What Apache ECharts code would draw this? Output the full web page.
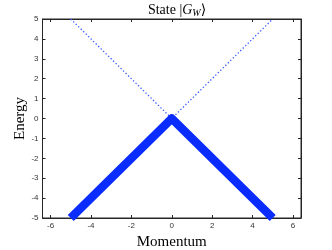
<!DOCTYPE html>
<html><head><meta charset="utf-8">
<script src="https://cdn.jsdelivr.net/npm/echarts@6/dist/echarts.min.js"></script>
<style>html,body{margin:0;padding:0;background:#fff}#c{width:332px;height:250px}</style>
</head><body><div id="c"></div>
<script>
const xTicks = [-6, -4, -2, 0, 2, 4, 6];
const yTicks = [-5, -4, -3, -2, -1, 0, 1, 2, 3, 4, 5];
const dottedX = [-5, 0, 5];
const dottedY = [5, 0, 5];
const thickX = [-5, 0, 5];
const thickY = [-5, 0, -5];

const chart = echarts.init(document.getElementById('c'));
const axisCol = '#262626';
const serif = '"Liberation Serif","DejaVu Serif",serif';
const baseX = {
  type: 'value', min: -6.4, max: 6.4,
  axisLine: {show: true, onZero: false, lineStyle: {color: axisCol, width: 1}},
  splitLine: {show: false}
};
const baseY = {
  type: 'value', min: -5, max: 5, interval: 1,
  axisLine: {show: true, onZero: false, lineStyle: {color: axisCol, width: 1}},
  splitLine: {show: false}
};
chart.setOption({
  animation: false,
  title: {
    text: '{n|State |}{i|G}{s|W}{n|⟩}', left: 172, top: -3, textAlign: 'center',
    textStyle: {fontWeight: 'normal', rich: {
      n: {fontFamily: serif, fontSize: 14, fontWeight: 'normal', color: '#000'},
      i: {fontFamily: serif, fontSize: 14, fontWeight: 'normal', fontStyle: 'italic', color: '#000'},
      s: {fontFamily: serif, fontSize: 10, fontWeight: 'normal', fontStyle: 'italic', color: '#000', verticalAlign: 'bottom', padding: [6, 0, 0, 0]}
    }}
  },
  grid: {left: 42.5, right: 31, top: 19, bottom: 32, show: true, borderColor: axisCol, borderWidth: 1, outerBoundsMode: 'none', containLabel: false},
  xAxis: [
    Object.assign({}, baseX, {
      position: 'bottom',
      name: 'Momentum', nameLocation: 'middle', nameGap: 17, nameMoveOverlap: false,
      nameTextStyle: {fontFamily: serif, fontSize: 15, color: '#000'},
      axisTick: {show: true, inside: true, length: 3, customValues: xTicks, lineStyle: {color: axisCol}},
      axisLabel: {customValues: xTicks, fontSize: 8, color: '#333', margin: 4, fontFamily: 'Liberation Sans, Arial, sans-serif'}
    }),
    Object.assign({}, baseX, {
      position: 'top',
      axisTick: {show: true, inside: true, length: 3, customValues: xTicks, lineStyle: {color: axisCol}},
      axisLabel: {show: false}
    })
  ],
  yAxis: [
    Object.assign({}, baseY, {
      position: 'left',
      name: 'Energy', nameLocation: 'middle', nameGap: 15, nameMoveOverlap: false,
      nameTextStyle: {fontFamily: serif, fontSize: 15, color: '#000'},
      axisTick: {show: true, inside: true, length: 3, lineStyle: {color: axisCol}},
      axisLabel: {fontSize: 8, color: '#333', margin: 4, fontFamily: 'Liberation Sans, Arial, sans-serif'}
    }),
    Object.assign({}, baseY, {
      position: 'right',
      axisTick: {show: true, inside: true, length: 3, lineStyle: {color: axisCol}},
      axisLabel: {show: false}
    })
  ],
  series: [
    {
      type: 'line', xAxisIndex: 0, yAxisIndex: 0, symbol: 'none', clip: true,
      data: dottedX.map((x, i) => [x, dottedY[i]]),
      lineStyle: {color: '#3358ff', width: 1.3, type: [1.3, 2.2]}
    },
    {
      type: 'line', xAxisIndex: 0, yAxisIndex: 0, symbol: 'none', clip: true,
      data: thickX.map((x, i) => [x, thickY[i]]),
      lineStyle: {color: '#0a2cff', width: 8.5, join: 'round', cap: 'butt'}
    }
  ]
});
</script></body></html>
